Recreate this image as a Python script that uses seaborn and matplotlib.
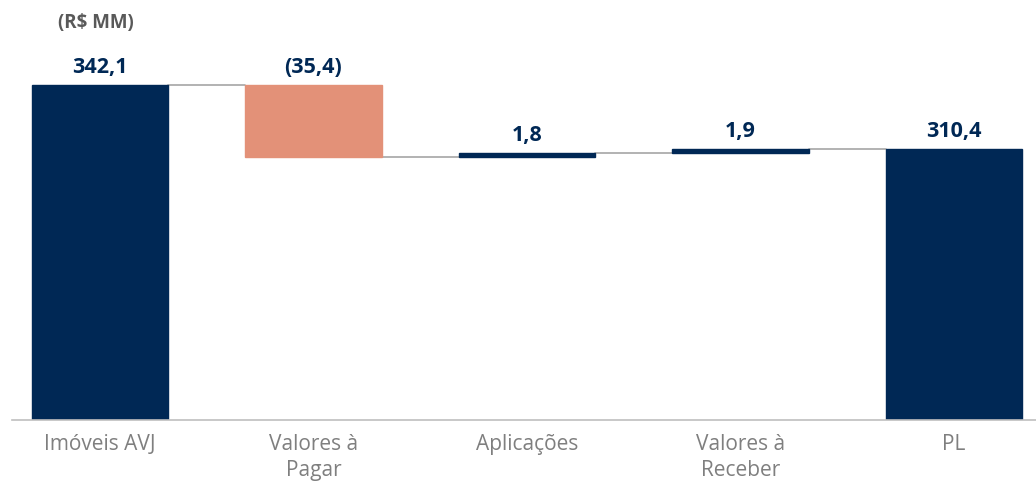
"""Waterfall: Imóveis AVJ -> PL (R$ MM)."""
import matplotlib
matplotlib.use("Agg")
import matplotlib.pyplot as plt
import numpy as np
import seaborn as sns

# data
categories = ["Imóveis AVJ", "Valores à\nPagar", "Aplicações", "Valores à\nReceber", "PL"]
steps = [342.1, -35.4, 1.8, 1.9]
total = 310.4

NAVY = "#002855"
SALMON = "#E39178"
GRAY_TXT = "#7F7F7F"
LINE = "#A6A6A6"


def fmt_br(v: float) -> str:
    s = f"{abs(v):.1f}".replace(".", ",")
    return f"({s})" if v < 0 else s


sns.set_theme(style="white")
plt.rcParams["font.family"] = ["Open Sans", "DejaVu Sans"]

# floating bar geometry from the running total
levels = np.cumsum(steps)
starts = np.concatenate([[0.0], levels[:-1]])
bottoms = np.concatenate([np.minimum(starts, levels), [0.0]])
heights = np.concatenate([np.abs(steps), [total]])
tops = bottoms + heights
colors = [SALMON if v < 0 else NAVY for v in steps] + [NAVY]

fig = plt.figure(figsize=(10.36, 4.82), dpi=100)
ax = fig.add_axes([12 / 1036, 62 / 482, 1024 / 1036, 420 / 482])

width = 0.64
sns.barplot(x=categories, y=heights, bottom=bottoms, width=width,
            color=NAVY, saturation=1, ax=ax)
for patch, c in zip(ax.patches, colors):
    patch.set_facecolor(c)
    patch.set_edgecolor(c)

# connectors between bars
for i, lvl in enumerate(levels):
    ax.plot([i + width / 2, i + 1 - width / 2], [lvl, lvl],
            color=LINE, lw=1.2, zorder=0)

# value labels
labels = [fmt_br(v) for v in steps] + [fmt_br(total)]
for i, (top, lab) in enumerate(zip(tops, labels)):
    ax.annotate(lab, (i, top), xytext=(0, 5), textcoords="offset points",
                ha="center", va="bottom", fontsize=15.5, fontweight="bold",
                color=NAVY)

ax.set_xlim(-0.412, 4.384)
ax.set_ylim(177.1, 384.0)
ax.set_yticks([])
ax.set_xlabel("")
ax.set_ylabel("")
for side in ["top", "left", "right"]:
    ax.spines[side].set_visible(False)
ax.spines["bottom"].set_color("#BFBFBF")
ax.spines["bottom"].set_linewidth(1.2)
ax.tick_params(axis="x", length=0, pad=10, labelsize=15, labelcolor=GRAY_TXT)
for t in ax.get_xticklabels():
    t.set_linespacing(1.3)

fig.text(96 / 1036, 1 - 23 / 482, "(R$ MM)", ha="center", va="center",
         fontsize=13.5, fontweight="bold", color="#595959")

fig.savefig("out.png", dpi=100)
